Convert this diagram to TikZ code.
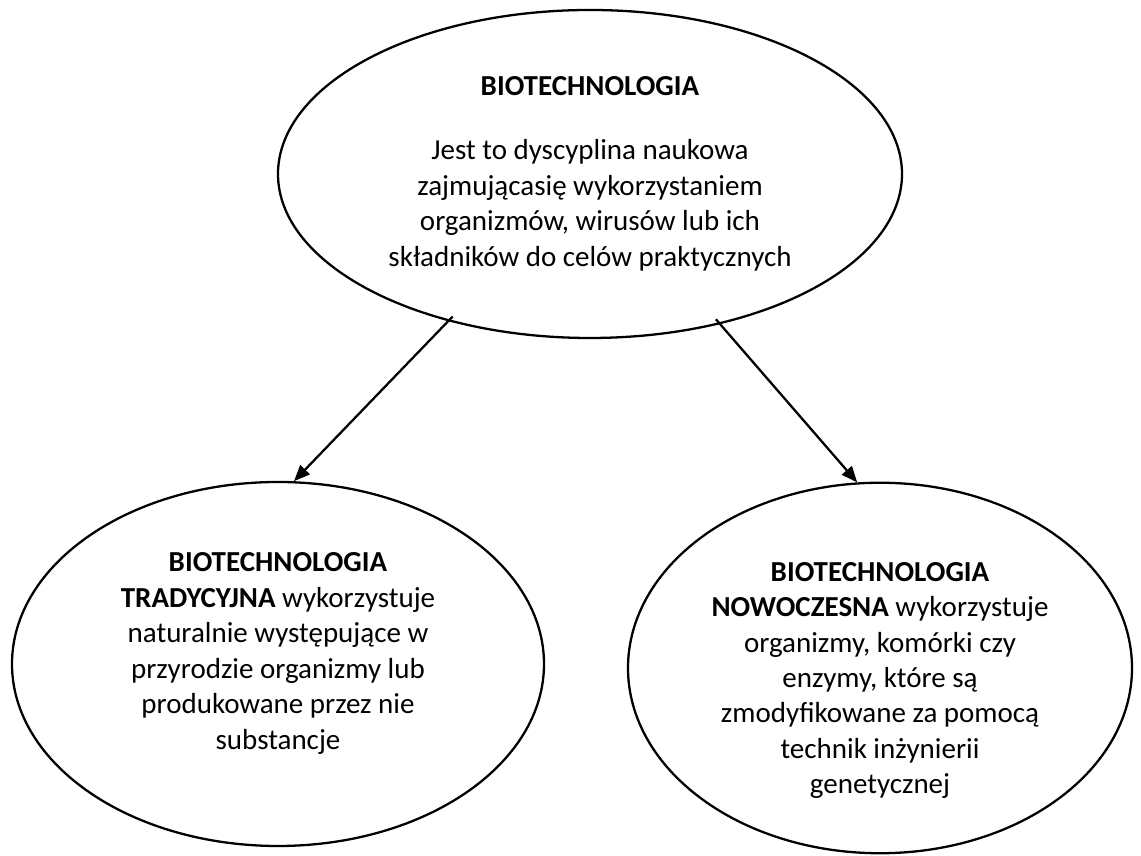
\documentclass[tikz,border=0pt]{standalone}
\usepackage{fontspec}
\setmainfont{Carlito}
\usetikzlibrary{arrows.meta,positioning,shapes.geometric}

\begin{document}
\begin{tikzpicture}[
  bubble/.style={ellipse,draw,line width=1.3pt,inner sep=0pt,align=center,font=\fontsize{16.5}{20.2}\selectfont},
  edge/.style={-{Triangle[length=3.2mm,width=2.6mm]},line width=1.3pt,shorten <=-0.13cm}]
\useasboundingbox (0,0) rectangle (22.82,17.12);
\node[bubble,minimum width=12.48cm,minimum height=6.56cm] (bio) at (11.80,13.64)
  {\textbf{BIOTECHNOLOGIA}\\[0.57cm]Jest to dyscyplina naukowa\\zajmującasię wykorzystaniem\\organizmów, wirusów lub ich\\składników do celów praktycznych};
\node[bubble,minimum width=10.64cm,minimum height=7.28cm] (trad) at (5.56,3.84)
  {\textbf{BIOTECHNOLOGIA}\\\textbf{TRADYCYJNA} wykorzystuje\\naturalnie występujące w\\przyrodzie organizmy lub\\produkowane przez nie\\substancje\rule[-0.52cm]{0pt}{0pt}};
\node[bubble,minimum width=10.08cm,minimum height=7.28cm] (nowo) at (17.60,3.76)
  {\rule{0pt}{0.88cm}\textbf{BIOTECHNOLOGIA}\\\textbf{NOWOCZESNA} wykorzystuje\\organizmy, komórki czy\\enzymy, które są\\zmodyfikowane za pomocą\\technik inżynierii\\genetycznej};
\draw[edge] (bio) -- (trad.85);
\draw[edge] (bio) -- (nowo.97);
\end{tikzpicture}
\end{document}
